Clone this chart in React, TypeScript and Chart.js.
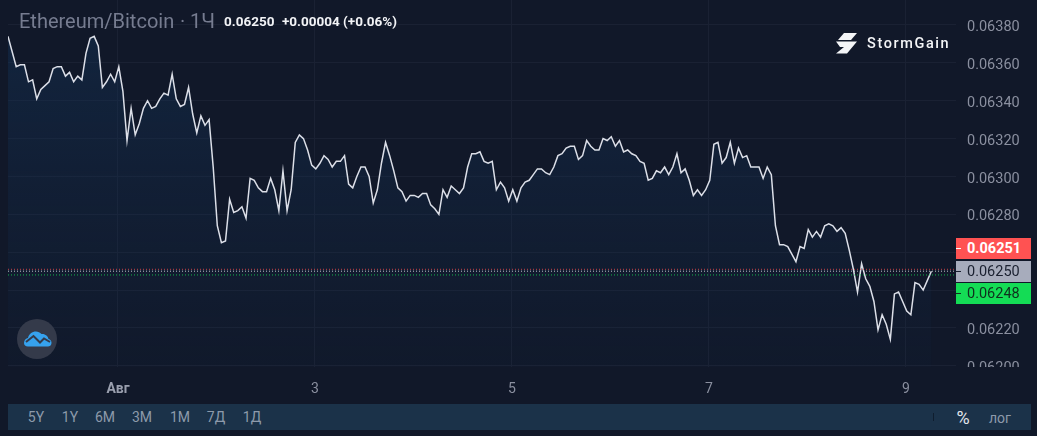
import React, { useEffect, useRef } from "react";
import { Chart, registerables } from "chart.js";

Chart.register(...registerables);

const pricesA = [
  0.06374, 0.06366, 0.06358, 0.06359, 0.06359, 0.0635, 0.06351, 0.06341, 0.06346, 0.06348, 0.0635, 0.06357,
  0.06358, 0.06358, 0.06353, 0.06355, 0.0635, 0.06353, 0.06351, 0.06365, 0.06373, 0.06374, 0.06369, 0.06347,
  0.0635, 0.06354, 0.0635, 0.06358, 0.06345, 0.06319, 0.06336, 0.06322, 0.06328, 0.06336, 0.0634, 0.06336,
  0.06337, 0.06341, 0.06344, 0.06343, 0.06354, 0.06341, 0.06337, 0.06338, 0.06347, 0.06333, 0.06323, 0.06332,
  0.06327, 0.0633, 0.06305, 0.06274, 0.06265, 0.06266, 0.06288, 0.06281, 0.06282, 0.06284, 0.06278, 0.06299,
  0.06298, 0.06294, 0.06292, 0.06292, 0.06299, 0.06293, 0.06282, 0.06303, 0.06282, 0.06293, 0.06318, 0.06322,
  0.0632, 0.06314, 0.06306, 0.06304, 0.06307, 0.06311, 0.06309, 0.06305, 0.06308, 0.06308, 0.06311, 0.06296,
];
const pricesB = [
  0.06294, 0.063, 0.06305, 0.06305, 0.063, 0.06286, 0.06293, 0.06307, 0.06318, 0.06311, 0.06303, 0.06294,
  0.06292, 0.06287, 0.0629, 0.0629, 0.06289, 0.06291, 0.06291, 0.06285, 0.06283, 0.0628, 0.06293, 0.06289,
  0.06295, 0.06293, 0.06291, 0.06294, 0.06305, 0.06312, 0.06312, 0.06313, 0.06308, 0.06307, 0.06308, 0.06293,
  0.06297, 0.06294, 0.06287, 0.06293, 0.06287, 0.06294, 0.06297, 0.06298, 0.06301, 0.06304, 0.06304, 0.06302,
  0.06301, 0.06305, 0.06311, 0.06312, 0.06315, 0.06316, 0.06316, 0.06309, 0.06311, 0.06319, 0.06316, 0.06314,
  0.06314, 0.0632, 0.06319, 0.06321, 0.06316, 0.06319, 0.06313, 0.06314, 0.06312, 0.06311, 0.06308, 0.06307,
  0.06298, 0.06299, 0.06303, 0.06302, 0.06305, 0.06301, 0.06305, 0.06312, 0.06302, 0.06304, 0.06298,
];
const pricesC = [
  0.0629, 0.06293, 0.0629, 0.06293, 0.06298, 0.06317, 0.06318, 0.06307, 0.0631, 0.06318, 0.06307, 0.06315,
  0.0631, 0.06311, 0.06305, 0.06305, 0.06305, 0.06299, 0.06305, 0.06301, 0.06274, 0.06264, 0.06264, 0.06263,
  0.06259, 0.06255, 0.06263, 0.06262, 0.06272, 0.06268, 0.06271, 0.06268, 0.06274, 0.06275, 0.06274, 0.06271,
  0.06273, 0.0627, 0.06261, 0.06251, 0.06239, 0.06254, 0.06246, 0.06242, 0.06234, 0.06219, 0.06227, 0.06222,
  0.06214, 0.06238, 0.06239, 0.06234, 0.06229, 0.06227, 0.06244, 0.06243, 0.0624, 0.06245, 0.0625,
];
const prices = [...pricesA, ...pricesB, ...pricesC];

const yTicks = [0.062, 0.0622, 0.0624, 0.0626, 0.0628, 0.063, 0.0632, 0.0634, 0.0636, 0.0638];
const xTickHours = [26.8, 74.8, 122.8, 170.8, 218.8];
const xTickLabels = ["Авг", "3", "5", "7", "9"];
const ask = 0.06251;
const last = 0.0625;
const bid = 0.06248;
const rangeButtons = [
  ["5Y", 36],
  ["1Y", 70],
  ["6M", 105],
  ["3M", 142],
  ["1M", 180],
  ["7Д", 216],
  ["1Д", 252],
] as const;

const BG = "#111829";
const FONT = "Roboto, sans-serif";
const AXIS = "#8a8f9f";
const GRID = "#1a2133";

const clipLabels = {
  id: "clipLabels",
  afterDraw(chart: any) {
    const { ctx } = chart;
    ctx.save();
    ctx.fillStyle = BG;
    ctx.fillRect(957, 367, 80, 14);
    ctx.restore();
  },
};

function Text(props: { x: number; y: number; s: string; color: string; size: number; weight?: number; center?: boolean; spacing?: number }) {
  const { x, y, s, color, size, weight = 400, center, spacing } = props;
  return (
    <div
      style={{
        position: "absolute",
        left: x,
        top: y,
        transform: center ? "translate(-50%,-50%)" : "translateY(-50%)",
        color,
        fontSize: size,
        fontWeight: weight,
        fontFamily: FONT,
        whiteSpace: "nowrap",
        letterSpacing: spacing,
        lineHeight: 1,
      }}
    >
      {s}
    </div>
  );
}

function PriceTag(props: { y: number; bg: string; fg: string; s: string; weight?: number }) {
  return (
    <div style={{ position: "absolute", left: 956, top: props.y, width: 75, height: 21, background: props.bg }}>
      <div style={{ position: "absolute", left: 0, top: 10, width: 5, height: 1, background: props.fg }} />
      <div
        style={{
          position: "absolute",
          left: 11,
          top: 0,
          lineHeight: "21px",
          fontFamily: FONT,
          fontSize: 14.5,
          fontWeight: props.weight ?? 400,
          color: props.fg,
        }}
      >
        {props.s}
      </div>
    </div>
  );
}

const noPadding = (s: any) => {
  s.paddingTop = 0;
  s.paddingBottom = 0;
  s.paddingLeft = 0;
  s.paddingRight = 0;
};

export default function App() {
  const ref = useRef<HTMLCanvasElement>(null);
  useEffect(() => {
    const xMax = 231;
    const flat = (v: number) => [
      { x: 0, y: v },
      { x: xMax, y: v },
    ];
    const chart = new Chart(ref.current as HTMLCanvasElement, {
      type: "line",
      plugins: [clipLabels],
      data: {
        datasets: [
          {
            data: flat(ask),
            borderColor: "rgba(255,82,82,0.75)",
            borderWidth: 1,
            borderDash: [1, 2],
            pointRadius: 0,
          },
          {
            data: flat(last),
            borderColor: "rgba(225,228,235,0.85)",
            borderWidth: 1,
            borderDash: [1, 2],
            pointRadius: 0,
          },
          {
            data: flat(bid),
            borderColor: "rgba(21,219,82,0.8)",
            borderWidth: 1,
            borderDash: [1, 2],
            pointRadius: 0,
          },
          {
            data: prices.map((y, x) => ({ x, y })),
            borderColor: "#dcdfe8",
            borderWidth: 1.5,
            pointRadius: 0,
            tension: 0,
            fill: "start",
            backgroundColor: (c: any) => {
              const area = c.chart.chartArea;
              if (!area) return "rgba(20,50,85,0.3)";
              const g = c.chart.ctx.createLinearGradient(0, area.top, 0, area.bottom);
              g.addColorStop(0, "rgba(20,50,85,0.5)");
              g.addColorStop(1, "rgba(20,50,85,0.06)");
              return g;
            },
          },
        ],
      },
      options: {
        animation: false,
        responsive: false,
        events: [],
        layout: { autoPadding: false, padding: { left: 8, top: 0, right: 0, bottom: 0 } },
        plugins: { legend: { display: false }, tooltip: { enabled: false } },
        scales: {
          x: {
            type: "linear",
            min: 0,
            max: xMax,
            border: { display: false },
            grid: { color: GRID, drawTicks: false, lineWidth: 1 },
            afterBuildTicks: (s: any) => {
              s.ticks = xTickHours.map((value) => ({ value }));
            },
            afterFit: (s: any) => {
              s.height = 69;
              noPadding(s);
            },
            ticks: {
              autoSkip: false,
              maxRotation: 0,
              padding: 14,
              color: (c: any) => (c.index === 0 ? "#9a9fae" : AXIS),
              font: (c: any) => ({ family: FONT, size: 14, weight: c.index === 0 ? "bold" : "normal" }),
              callback: (_v: any, i: number) => xTickLabels[i],
            },
          },
          y: {
            position: "right",
            min: 0.061994,
            max: 0.063932,
            border: { display: false },
            grid: { color: GRID, drawTicks: false, lineWidth: 1 },
            afterBuildTicks: (s: any) => {
              s.ticks = yTicks.map((value) => ({ value }));
            },
            afterFit: (s: any) => {
              s.width = 81;
              noPadding(s);
            },
            ticks: {
              autoSkip: false,
              padding: 11,
              labelOffset: 2.5,
              color: AXIS,
              font: { family: FONT, size: 14.5 },
              callback: (v: any) => Number(v).toFixed(5),
            },
          },
        },
      } as any,
    } as any);
    return () => chart.destroy();
  }, []);

  return (
    <div style={{ position: "relative", width: 1037, height: 436, background: BG, overflow: "hidden" }}>
      <style>{`body{margin:0;background:${BG}}`}</style>
      <canvas ref={ref} width={1037} height={436} style={{ position: "absolute", left: 0, top: 0, display: "block" }} />

      <Text x={19} y={21} s="Ethereum/Bitcoin" color="#767c90" size={20} />
      <Text x={180} y={21} s="·" color="#767c90" size={20} />
      <Text x={190} y={21} s="1Ч" color="#767c90" size={20} />
      <Text x={224} y={22} s="0.06250" color="#f2f3f6" size={13.5} weight={700} />
      <Text x={282} y={22} s="+0.00004 (+0.06%)" color="#f2f3f6" size={13.5} weight={700} />

      <svg style={{ position: "absolute", left: 836, top: 33 }} width={22} height={21} viewBox="0 0 22 21">
        <path d="M8 0H21L15 7H2L8 0Z" fill="#f4f5f7" />
        <path d="M0 8.500H21L11 20.500H0L8 14H4L0 8.500Z" fill="#f4f5f7" />
      </svg>
      <Text x={867} y={44} s="StormGain" color="#f4f5f7" size={14.5} weight={500} spacing={1.6} />

      <svg style={{ position: "absolute", left: 17, top: 319 }} width={40} height={40} viewBox="0 0 40 40">
        <circle cx={20} cy={20} r={20} fill="#343a4a" />
        <path
          d="M7 24C7 21 9 19.500 11 19C12 15 15 12.500 19 12.500C21 12.500 23 13.500 24.500 15C28 14.500 31 17 31.500 20C33.500 20.500 34.500 22 34.500 24C34.500 26.500 32.500 27.500 31 27.500H11C8.500 27.500 7 26 7 24Z"
          fill="#36a2ee"
        />
        <path d="M9 23L16.500 17L23 23.500L27 19.500L33 23" fill="none" stroke="#343a4a" strokeWidth={2} />
      </svg>

      <PriceTag y={238} bg="#ff5252" fg="#ffffff" s="0.06251" weight={700} />
      <PriceTag y={261} bg="#a7acbc" fg="#1a2030" s="0.06250" />
      <PriceTag y={283} bg="#14dc55" fg="#10301e" s="0.06248" />

      <div style={{ position: "absolute", left: 8, top: 404, width: 1023, height: 26, background: "#1b3249" }} />
      {rangeButtons.map(([label, x]) => (
        <Text key={label} x={x} y={417} s={label} color="#8d9aab" size={14} center />
      ))}
      <div style={{ position: "absolute", left: 933, top: 413, width: 1, height: 8, background: "#0f1d2e" }} />
      <Text x={963} y={418} s="%" color="#e3e6ec" size={18} center />
      <Text x={1000} y={418} s="лог" color="#8d9aab" size={14} center />
    </div>
  );
}
